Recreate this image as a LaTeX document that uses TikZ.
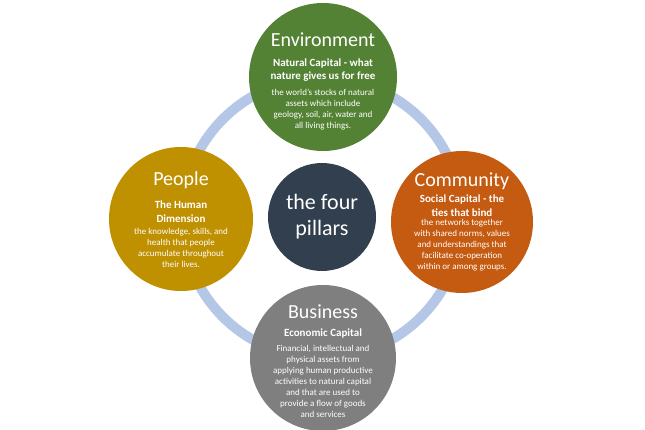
\documentclass[tikz,border=0pt]{standalone}
\usepackage{fontspec}
\setmainfont{Carlito}
\definecolor{ringc}{RGB}{180,199,231}
\definecolor{envc}{RGB}{84,130,53}
\definecolor{pplc}{RGB}{191,144,0}
\definecolor{comc}{RGB}{197,90,17}
\definecolor{busc}{RGB}{127,127,127}
\definecolor{ctrc}{RGB}{50,63,79}
\begin{document}
\begin{tikzpicture}[x=1pt,y=-1pt,
  pillar/.style={circle,inner sep=0pt},
  ttl/.style={text=white,inner sep=0pt,font=\fontsize{20}{22}\selectfont},
  sub/.style={text=white,inner sep=0pt,align=center,font=\bfseries\fontsize{11}{13.5}\selectfont},
  body/.style={text=white,inner sep=0pt,align=center,font=\fontsize{9}{11}\selectfont}]
\useasboundingbox (0,0) rectangle (645,430);
\draw[line width=10pt,ringc] (322,218) circle (140);
% Environment
\node[pillar,minimum size=148pt,fill=envc] (env) at (323,77) {};
\node[ttl] (envt) at (323,40) {Environment};
\node[sub,anchor=north] (envs) at ([yshift=-11pt]envt.south) {Natural Capital - what\\ nature gives us for free};
\node[body,anchor=north] (envb) at ([yshift=-7pt]envs.south) {the world's stocks of natural\\ assets which include\\ geology, soil, air, water and\\ all living things.};
% People
\node[pillar,minimum size=144pt,fill=pplc] (ppl) at (181,219) {};
\node[ttl] (pplt) at (181,180) {People};
\node[sub,anchor=north] (ppls) at ([yshift=-12pt]pplt.south) {The Human\\ Dimension};
\node[body,anchor=north] (pplb) at ([yshift=-6pt]ppls.south) {the knowledge, skills, and\\ health that people\\ accumulate throughout\\ their lives.};
% Community
\node[pillar,minimum size=142pt,fill=comc] (com) at (462,222) {};
\node[ttl] (comt) at (462,181) {Community};
\node[sub,anchor=north] (coms) at ([yshift=-5pt]comt.south) {Social Capital - the\\ ties that bind};
\node[body,anchor=north] (comb) at ([yshift=-3pt]coms.south) {the networks together\\ with shared norms, values\\ and understandings that\\ facilitate co-operation\\ within or among groups.};
% Business
\node[pillar,minimum size=146pt,fill=busc] (bus) at (323,358) {};
\node[ttl] (bust) at (323,312) {Business};
\node[sub,anchor=north] (buss) at ([yshift=-9pt]bust.south) {Economic Capital};
\node[body,anchor=north] (busb) at ([yshift=-7pt]buss.south) {Financial, intellectual and\\ physical assets from\\ applying human productive\\ activities to natural capital\\ and that are used to\\ provide a flow of goods\\ and services};
% Centre
\node[pillar,minimum size=108pt,fill=ctrc,text=white,align=center,font=\fontsize{22}{26}\selectfont] (ctr) at (322,217) {the four\\ pillars};
\end{tikzpicture}
\end{document}
